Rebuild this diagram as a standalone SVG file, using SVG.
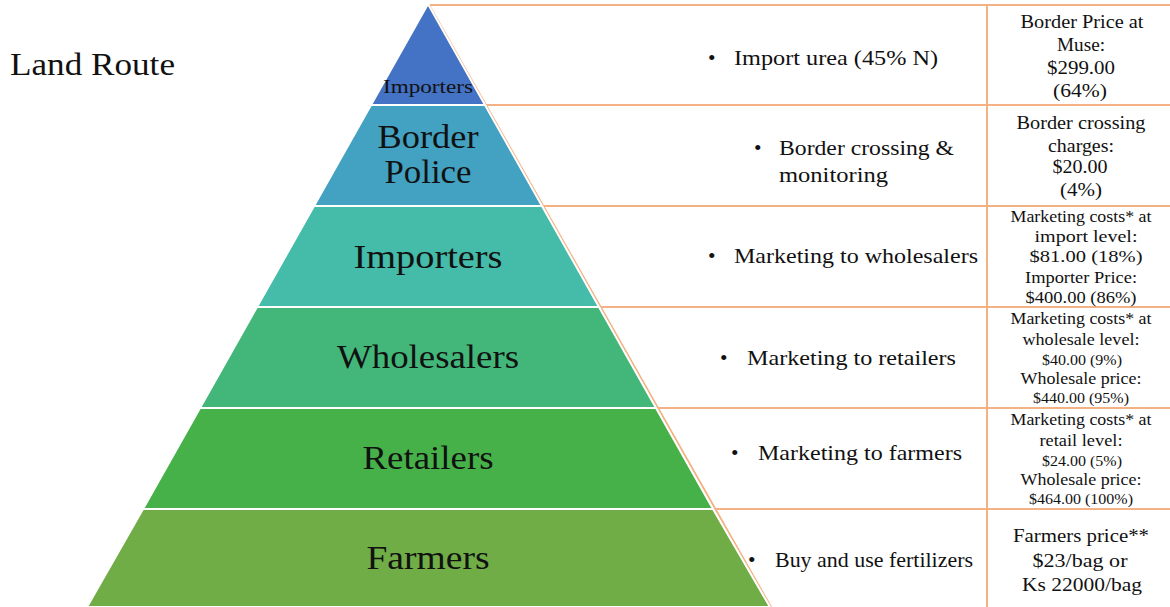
<svg xmlns="http://www.w3.org/2000/svg" width="1170" height="607" viewBox="0 0 1170 607">
<style>
text{font-family:"Liberation Serif","DejaVu Serif",serif;fill:#111}
.tier{stroke:#fff;stroke-width:2}
.big{font-size:33px;text-anchor:middle}
.mid{font-size:21.5px}
.r{text-anchor:middle;font-size:18px}
.rs{text-anchor:middle;font-size:16.5px}
.rx{text-anchor:middle;font-size:15px}
.tl{stroke:#F4B183;stroke-width:2;fill:none}
</style>
<rect width="1170" height="607" fill="#fff"/>
<text x="10" y="75" font-size="31" textLength="165" lengthAdjust="spacingAndGlyphs">Land Route</text>
<g id="connectors">
<path class="tl" d="M430 5H1170M486 105H1170M543 206H1170M600 307H1170M657 408H1170M714 509H1170M987 5V607M429 5L771 607"/>
</g>
<g id="tier-importers-top">
<polygon class="tier" fill="#4472C4" points="428,4 485,105 371,105"/>
<text x="428" y="93" font-size="18" text-anchor="middle" textLength="90" lengthAdjust="spacingAndGlyphs">Importers</text>
</g>
<g id="tier-border-police">
<polygon class="tier" fill="#43A1C1" points="371,105 485,105 542,206 314,206"/>
<text class="big" x="428" y="148" textLength="101" lengthAdjust="spacingAndGlyphs">Border</text>
<text class="big" x="428" y="183" textLength="87" lengthAdjust="spacingAndGlyphs">Police</text>
</g>
<g id="tier-importers">
<polygon class="tier" fill="#45BBA9" points="314,206 542,206 599,307 257,307"/>
<text class="big" x="428" y="268" textLength="149" lengthAdjust="spacingAndGlyphs">Importers</text>
</g>
<g id="tier-wholesalers">
<polygon class="tier" fill="#43B77A" points="257,307 599,307 656,408 200,408"/>
<text class="big" x="428" y="368" textLength="182" lengthAdjust="spacingAndGlyphs">Wholesalers</text>
</g>
<g id="tier-retailers">
<polygon class="tier" fill="#46B149" points="200,408 656,408 713,509 143,509"/>
<text class="big" x="428" y="469" textLength="131" lengthAdjust="spacingAndGlyphs">Retailers</text>
</g>
<g id="tier-farmers">
<polygon class="tier" fill="#70AD47" points="143,509 713,509 770,607 87,607"/>
<text class="big" x="428" y="569" textLength="123" lengthAdjust="spacingAndGlyphs">Farmers</text>
</g>
<g id="activities">
<text class="mid" x="708" y="65">•</text><text class="mid" x="734" y="65" textLength="204" lengthAdjust="spacingAndGlyphs">Import urea (45% N)</text>
<text class="mid" x="754" y="155">•</text><text class="mid" x="779" y="155" textLength="175" lengthAdjust="spacingAndGlyphs">Border crossing &amp;</text>
<text class="mid" x="779" y="182" textLength="109" lengthAdjust="spacingAndGlyphs">monitoring</text>
<text class="mid" x="708" y="263">•</text><text class="mid" x="734" y="263" textLength="244" lengthAdjust="spacingAndGlyphs">Marketing to wholesalers</text>
<text class="mid" x="720" y="365">•</text><text class="mid" x="747" y="365" textLength="209" lengthAdjust="spacingAndGlyphs">Marketing to retailers</text>
<text class="mid" x="731" y="460">•</text><text class="mid" x="758" y="460" textLength="204" lengthAdjust="spacingAndGlyphs">Marketing to farmers</text>
<text class="mid" x="748" y="567">•</text><text class="mid" x="775" y="567" textLength="198" lengthAdjust="spacingAndGlyphs">Buy and use fertilizers</text>
</g>
<g id="prices">
<text class="r" x="1082" y="28" textLength="123" lengthAdjust="spacingAndGlyphs">Border Price at</text>
<text class="r" x="1081" y="51" textLength="48" lengthAdjust="spacingAndGlyphs">Muse:</text>
<text class="r" x="1081" y="74" textLength="68" lengthAdjust="spacingAndGlyphs">$299.00</text>
<text class="r" x="1080" y="97" textLength="54" lengthAdjust="spacingAndGlyphs">(64%)</text>
<text class="r" x="1081" y="129" textLength="129" lengthAdjust="spacingAndGlyphs">Border crossing</text>
<text class="r" x="1081" y="152" textLength="66" lengthAdjust="spacingAndGlyphs">charges:</text>
<text class="r" x="1080" y="173" textLength="55" lengthAdjust="spacingAndGlyphs">$20.00</text>
<text class="r" x="1081" y="196" textLength="42" lengthAdjust="spacingAndGlyphs">(4%)</text>
<text class="rs" x="1081" y="222" textLength="141" lengthAdjust="spacingAndGlyphs">Marketing costs* at</text>
<text class="rs" x="1086" y="242" textLength="103" lengthAdjust="spacingAndGlyphs">import level:</text>
<text class="rs" x="1086" y="262" textLength="113" lengthAdjust="spacingAndGlyphs">$81.00 (18%)</text>
<text class="rs" x="1081" y="283" textLength="112" lengthAdjust="spacingAndGlyphs">Importer Price:</text>
<text class="rs" x="1081" y="303" textLength="111" lengthAdjust="spacingAndGlyphs">$400.00 (86%)</text>
<text class="rs" x="1081" y="324" textLength="141" lengthAdjust="spacingAndGlyphs">Marketing costs* at</text>
<text class="rs" x="1081" y="345" textLength="117" lengthAdjust="spacingAndGlyphs">wholesale level:</text>
<text class="rx" x="1082" y="365" textLength="80" lengthAdjust="spacingAndGlyphs">$40.00 (9%)</text>
<text class="rs" x="1081" y="384" textLength="121" lengthAdjust="spacingAndGlyphs">Wholesale price:</text>
<text class="rx" x="1081" y="403" textLength="96" lengthAdjust="spacingAndGlyphs">$440.00 (95%)</text>
<text class="rs" x="1081" y="425" textLength="141" lengthAdjust="spacingAndGlyphs">Marketing costs* at</text>
<text class="rs" x="1081" y="446" textLength="83" lengthAdjust="spacingAndGlyphs">retail level:</text>
<text class="rx" x="1082" y="466" textLength="80" lengthAdjust="spacingAndGlyphs">$24.00 (5%)</text>
<text class="rs" x="1081" y="485" textLength="121" lengthAdjust="spacingAndGlyphs">Wholesale price:</text>
<text class="rx" x="1081" y="504" textLength="104" lengthAdjust="spacingAndGlyphs">$464.00 (100%)</text>
<text class="r" x="1081" y="542" font-size="19" textLength="136" lengthAdjust="spacingAndGlyphs">Farmers price**</text>
<text class="r" x="1080" y="567" font-size="19" textLength="95" lengthAdjust="spacingAndGlyphs">$23/bag or</text>
<text class="r" x="1082" y="591" font-size="19" textLength="120" lengthAdjust="spacingAndGlyphs">Ks 22000/bag</text>
</g>
</svg>
